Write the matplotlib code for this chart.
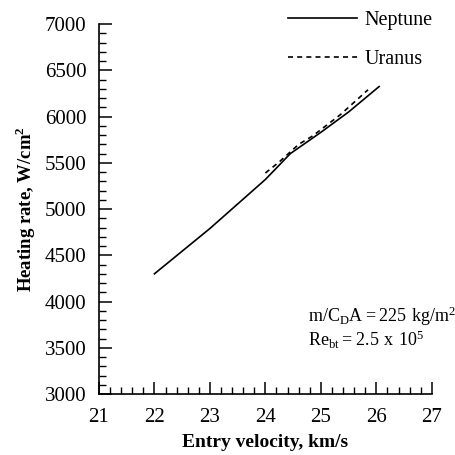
import matplotlib
matplotlib.use('Agg')
import matplotlib.pyplot as plt
from matplotlib.ticker import MultipleLocator

plt.rcParams['font.family'] = ['Liberation Serif', 'DejaVu Serif']
plt.rcParams['mathtext.fontset'] = 'custom'
plt.rcParams['mathtext.rm'] = 'Liberation Serif'
plt.rcParams['mathtext.bf'] = 'Liberation Serif:bold'

# values
neptune_v = [22.0, 23.0, 24.0, 24.45, 25.0, 25.5, 26.05]
neptune_q = [4300, 4790, 5320, 5600, 5830, 6050, 6325]
uranus_v = [24.0, 24.25, 24.6, 24.85, 25.35, 25.85]
uranus_q = [5390, 5510, 5700, 5790, 6020, 6290]

fig = plt.figure(figsize=(4.56, 4.55), dpi=100)
ax = fig.add_axes([0.217, 0.134, 0.730, 0.813])

ax.plot(neptune_v, neptune_q, color='black', lw=1.2, label='Neptune')
ax.plot(uranus_v, uranus_q, color='black', lw=1.2, ls=(0, (3, 2.5)), label='Uranus')

ax.set_xlim(21, 27)
ax.set_ylim(3000, 7000)
ax.xaxis.set_major_locator(MultipleLocator(1))
ax.xaxis.set_minor_locator(MultipleLocator(0.2))
ax.yaxis.set_major_locator(MultipleLocator(500))
ax.yaxis.set_minor_locator(MultipleLocator(100))
ax.tick_params(which='major', direction='in', length=9, width=1.1, labelsize=15)
ax.tick_params(axis='y', which='major', pad=9)
ax.tick_params(axis='x', which='major', pad=10)
ax.tick_params(which='minor', direction='in', length=5, width=1.0)
ax.spines['top'].set_visible(False)
ax.spines['right'].set_visible(False)
ax.spines['left'].set_linewidth(1.2)
ax.spines['bottom'].set_linewidth(1.2)

ax.set_xlabel('Entry velocity, km/s', fontsize=14, fontweight='bold', labelpad=5)
ax.set_ylabel('Heating rate, W/cm$^\\mathbf{2}$', fontsize=13.5, fontweight='bold', labelpad=5)

ax.text(24.76, 3715, '$\\mathregular{m/C_DA = 225\\ kg/m^2}$', fontsize=13, ha='left', va='bottom')
ax.text(24.76, 3465, '$\\mathregular{Re_{bt} = 2.5\\ x\\ 10^5}$', fontsize=13, ha='left', va='bottom')

leg = ax.legend(loc='upper right', bbox_to_anchor=(1.057, 1.085), frameon=False, fontsize=14.5,
                handlelength=3.4, handletextpad=0.4, labelspacing=1.0)

fig.savefig('out.png', dpi=100)
